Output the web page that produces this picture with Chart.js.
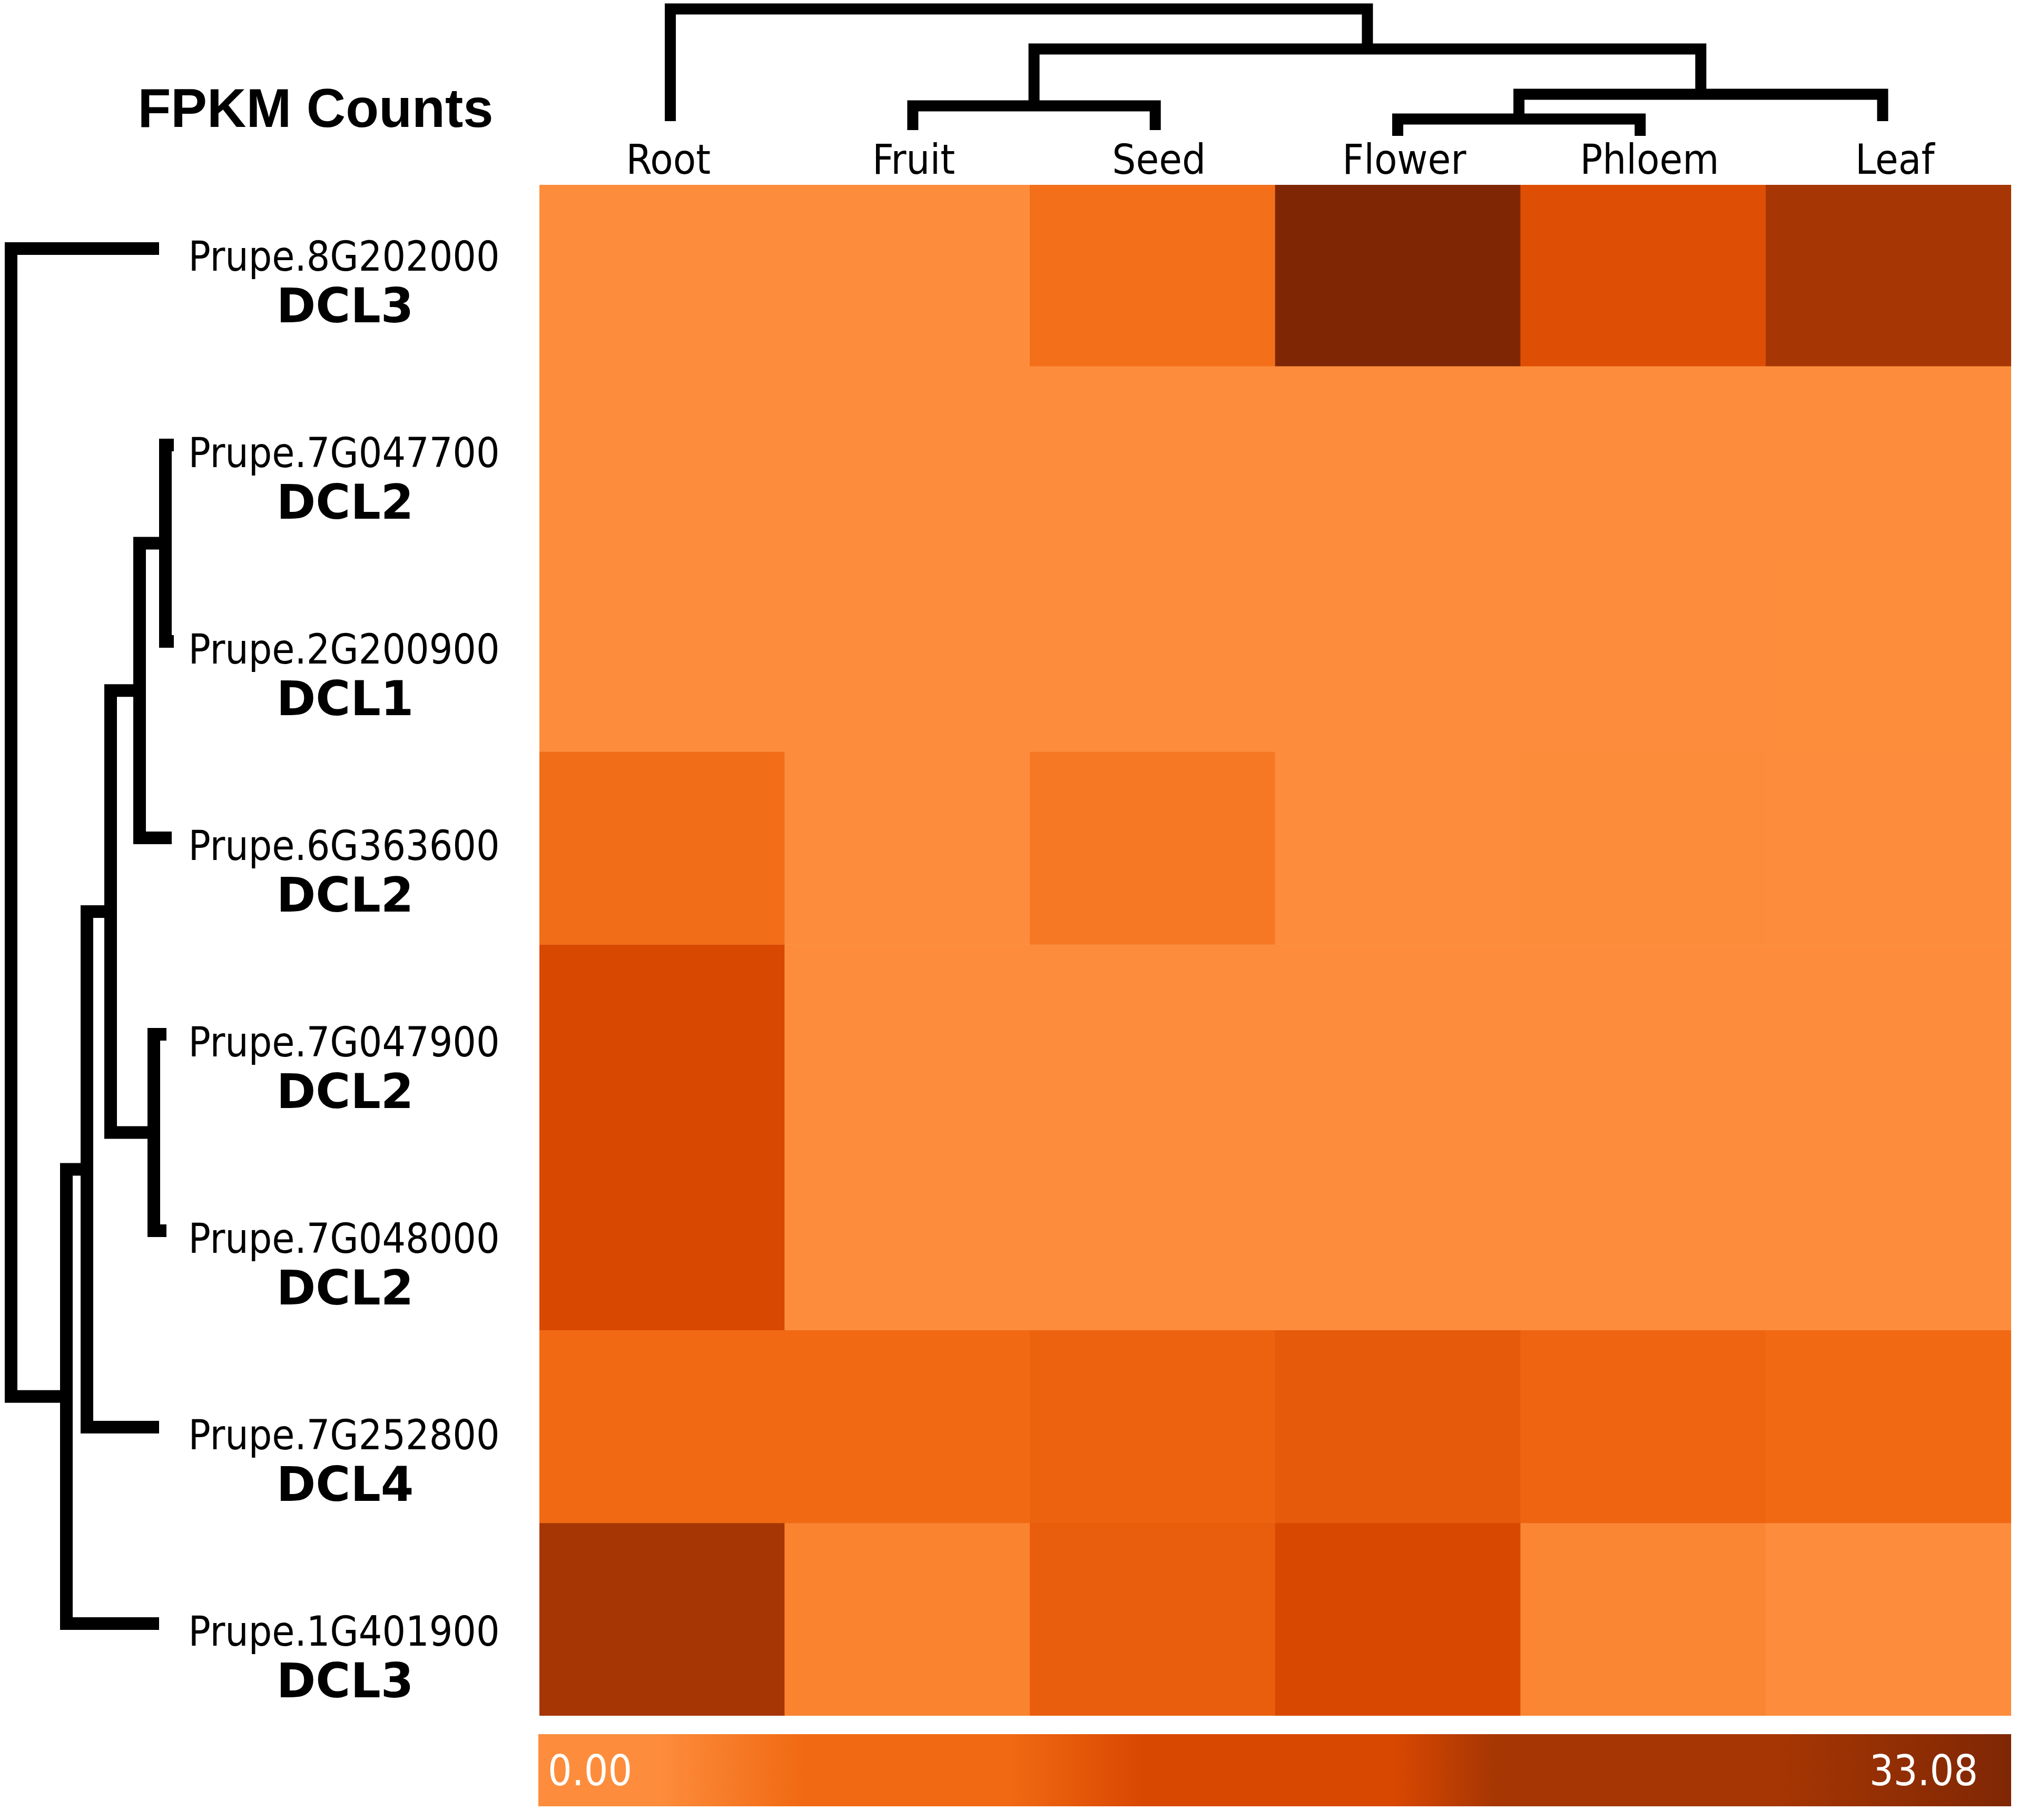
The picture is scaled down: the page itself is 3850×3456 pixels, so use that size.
<!DOCTYPE html>
<html>
<head>
<meta charset="utf-8">
<script src="https://cdn.jsdelivr.net/npm/chart.js@4.4.1/dist/chart.umd.min.js"></script>
<style>
  body { margin: 0; background: #fff; }
  #page { position: relative; width: 3850px; height: 3456px; background: #fff; overflow: hidden; }
  canvas { position: absolute; }
  #rowTree { left: 0; top: 0; }
  #colTree { left: 1024px; top: 0; }
  #heat { left: 1024px; top: 351px; }
  #bar { left: 1022px; top: 3293px; }
</style>
</head>
<body>
<div id="page">
  <canvas id="rowTree" width="1000" height="3456"></canvas>
  <canvas id="colTree" width="2794" height="351"></canvas>
  <canvas id="heat" width="2794" height="2907"></canvas>
  <canvas id="bar" width="2796" height="137"></canvas>
</div>
<script>
const tissues = ['Root', 'Fruit', 'Seed', 'Flower', 'Phloem', 'Leaf']
const geneIds = ['Prupe.8G202000', 'Prupe.7G047700', 'Prupe.2G200900', 'Prupe.6G363600',
  'Prupe.7G047900', 'Prupe.7G048000', 'Prupe.7G252800', 'Prupe.1G401900']
const geneNames = ['DCL3', 'DCL2', 'DCL1', 'DCL2', 'DCL2', 'DCL2', 'DCL4', 'DCL3']

// FPKM per gene (rows) and tissue (columns)
const fpkm = [
  [1.2, 1.1, 5.4, 33.08, 12.9, 22.6],
  [1.0, 1.4, 1.3, 2.5, 2.0, 2.6],
  [0.9, 2.4, 2.5, 2.5, 2.4, 2.7],
  [5.6, 1.5, 4.6, 2.4, 2.8, 2.6],
  [17.2, 1.6, 2.3, 2.6, 2.4, 2.4],
  [16.8, 1.7, 2.6, 2.4, 2.5, 2.5],
  [8.9, 7.6, 11.2, 11.9, 11.0, 9.8],
  [27.6, 3.6, 11.6, 15.6, 3.4, 2.5]
]
const scaleMin = 0
const scaleMax = 33.08

// linkage rows: [child a, child b, merge height]; leaves first, new nodes numbered after them
const colTree = [[3, 4, 1.76], [1, 2, 2.76], [6, 5, 3.64], [7, 8, 7.08], [0, 9, 10.12]]
const colLeafEnds = [1.6, 0.92, 0.92, 0.48, 0.48, 1.6]
const rowTree = [[1, 2, 1.04], [4, 5, 1.92], [8, 3, 3.0], [10, 9, 5.2], [11, 6, 7.0], [12, 7, 8.56], [0, 13, 12.76]]
const rowLeafEnds = [1.52, 0.4, 0.4, 0.56, 0.96, 0.96, 1.52, 1.52]

const stops = [[0, '#FD8D3C'], [0.08, '#FD8D3C'], [0.18, '#F16913'], [0.32, '#F16913'],
  [0.41, '#D94801'], [0.58, '#D94801'], [0.65, '#A63603'], [0.84, '#A63603'], [1, '#7F2704']]

const hex = (h) => [1, 3, 5].map(i => parseInt(h.slice(i, i + 2), 16))

const colorFor = (v) => {
  let t = (v - scaleMin) / (scaleMax - scaleMin)
  t = Math.max(0, Math.min(1, t))
  for (let i = 1; i < stops.length; i++) {
    if (t <= stops[i][0]) {
      const [s0, c0] = stops[i - 1]
      const [s1, c1] = stops[i]
      const f = s1 > s0 ? (t - s0) / (s1 - s0) : 0
      const a = hex(c0), b = hex(c1)
      const rgb = a.map((x, k) => Math.round(x + (b[k] - x) * f))
      return `rgb(${rgb.join(',')})`
    }
  }
  return stops[stops.length - 1][1]
}

// turns a linkage into polylines: [pos, height] pairs
const treeLinks = (merges, leafEnds) => {
  const pos = leafEnds.map((h, i) => i)
  const top = leafEnds.slice()
  const links = []
  merges.forEach(([a, b, h]) => {
    links.push([[pos[a], top[a]], [pos[a], h], [pos[b], h], [pos[b], top[b]]])
    pos.push((pos[a] + pos[b]) / 2)
    top.push(h)
  })
  return links
}

const condensed = '"DejaVu Sans Condensed", "DejaVu Sans", sans-serif'

const baseOptions = (extra) => Object.assign({
  responsive: false,
  animation: false,
  devicePixelRatio: 1,
  events: [],
  plugins: { legend: { display: false }, tooltip: { enabled: false } }
}, extra)

const lineStyle = (w) => ({
  showLine: true, borderColor: '#000', borderWidth: w, pointRadius: 0,
  borderJoinStyle: 'miter', borderCapStyle: 'butt', clip: false, tension: 0
})

// top dendrogram + tissue names
const colLabels = {
  id: 'colLabels',
  afterDraw(chart) {
    const ctx = chart.ctx
    const heatX = heatChart.scales.x
    ctx.save()
    ctx.font = '79px ' + condensed
    ctx.fillStyle = '#000'
    ctx.textAlign = 'center'
    ctx.textBaseline = 'alphabetic'
    tissues.forEach((t, i) => {
      ctx.fillText(t, heatX.getPixelForValue(i) + 12, chart.chartArea.bottom + 60)
    })
    ctx.restore()
  }
}

// left dendrogram + gene labels + title
const rowLabels = {
  id: 'rowLabels',
  afterDraw(chart) {
    const ctx = chart.ctx
    const y = chart.scales.y
    ctx.save()
    ctx.fillStyle = '#000'
    ctx.textAlign = 'center'
    ctx.textBaseline = 'alphabetic'
    geneIds.forEach((g, i) => {
      const py = y.getPixelForValue(i)
      ctx.font = '78px ' + condensed
      ctx.fillText(g, 653, py + 42)
      ctx.font = 'bold 90px "DejaVu Sans", sans-serif'
      ctx.fillText(geneNames[i], 655, py + 140)
    })
    ctx.font = 'bold 103px "Liberation Sans", Arial, sans-serif'
    ctx.fillText('FPKM Counts', 599, 241)
    ctx.restore()
  }
}

new Chart(document.getElementById('rowTree'), {
  type: 'scatter',
  data: {
    datasets: treeLinks(rowTree, rowLeafEnds).map(l => Object.assign({
      data: l.map(([p, h]) => ({ x: h, y: p }))
    }, lineStyle(24)))
  },
  options: baseOptions({
    layout: { padding: { left: 0, right: 660, top: 285.5, bottom: 186.5 } },
    scales: {
      x: { type: 'linear', min: 0, max: 13.6, reverse: true, display: false },
      y: { type: 'linear', min: -0.5, max: geneIds.length - 0.5, reverse: true, display: false }
    }
  }),
  plugins: [rowLabels]
})

// heatmap cells: one stacked dataset per gene row
const heatChart = new Chart(document.getElementById('heat'), {
  type: 'bar',
  data: {
    labels: tissues,
    datasets: fpkm.map((row, r) => ({
      label: geneIds[r],
      data: row.map(() => 1),
      backgroundColor: row.map(colorFor),
      borderWidth: 0,
      barPercentage: 1,
      categoryPercentage: 1
    }))
  },
  options: baseOptions({
    layout: { padding: 0 },
    scales: {
      x: { stacked: true, display: false },
      // first row is a little cut at the top in the original
      y: { stacked: true, display: false, min: 0.06, max: geneIds.length, reverse: true }
    }
  })
})

// the column tree is drawn a touch narrower than the cell grid
new Chart(document.getElementById('colTree'), {
  type: 'scatter',
  data: {
    datasets: treeLinks(colTree, colLeafEnds).map(l => Object.assign({
      data: l.map(([p, h]) => ({ x: p, y: h }))
    }, lineStyle(21)))
  },
  options: baseOptions({
    layout: { padding: { left: 0, right: 0, top: 0, bottom: 81 } },
    scales: {
      x: { type: 'linear', min: -0.54, max: 5.53, display: false },
      y: { type: 'linear', min: 0, max: 10.8, display: false }
    }
  }),
  plugins: [colLabels]
})

// colour key
const barText = {
  id: 'barText',
  afterDraw(chart) {
    const ctx = chart.ctx
    const x = chart.scales.x
    ctx.save()
    ctx.font = '80px ' + condensed
    ctx.fillStyle = '#fff'
    ctx.textBaseline = 'alphabetic'
    ctx.textAlign = 'left'
    ctx.fillText(scaleMin.toFixed(2), x.getPixelForValue(scaleMin) + 18, chart.chartArea.top + 97)
    ctx.textAlign = 'right'
    ctx.fillText(scaleMax.toFixed(2), x.getPixelForValue(scaleMax) - 63, chart.chartArea.top + 97)
    ctx.restore()
  }
}

new Chart(document.getElementById('bar'), {
  type: 'bar',
  data: {
    labels: ['FPKM'],
    datasets: [{
      data: [scaleMax],
      backgroundColor: (c) => {
        const a = c.chart.chartArea
        if (!a) return stops[0][1]
        const g = c.chart.ctx.createLinearGradient(a.left, 0, a.right, 0)
        stops.forEach(([s, col]) => g.addColorStop(s, col))
        return g
      },
      borderWidth: 0,
      barPercentage: 1,
      categoryPercentage: 1
    }]
  },
  options: baseOptions({
    indexAxis: 'y',
    layout: { padding: 0 },
    scales: {
      x: { min: scaleMin, max: scaleMax, display: false },
      y: { display: false }
    }
  }),
  plugins: [barText]
})
</script>
</body>
</html>
